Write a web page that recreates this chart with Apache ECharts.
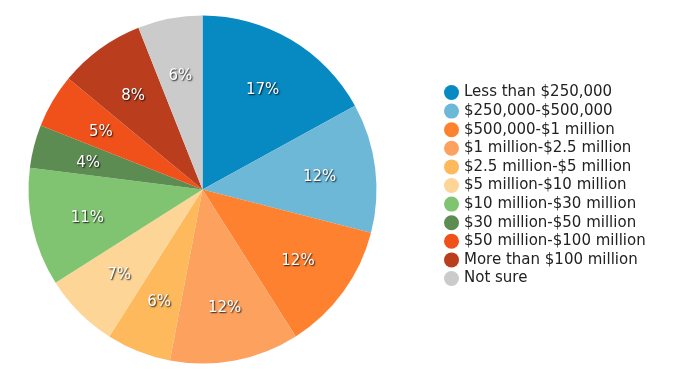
<!DOCTYPE html>
<html><head><meta charset="utf-8">
<script src="https://cdn.jsdelivr.net/npm/echarts@6/dist/echarts.min.js"></script>
<style>html,body{margin:0;padding:0;background:#fff}#c{width:675px;height:380px}</style>
</head><body><div id="c"></div>
<script>
const categories = ["Less than $250,000","$250,000-$500,000","$500,000-$1 million","$1 million-$2.5 million","$2.5 million-$5 million","$5 million-$10 million","$10 million-$30 million","$30 million-$50 million","$50 million-$100 million","More than $100 million","Not sure"];
const values = [17,12,12,12,6,7,11,4,5,8,6];
const colors = ["#0789C2","#6DB8D7","#FE8130","#FDA15F","#FDB95B","#FCD597","#80C471","#5D8C53","#F05019","#BA3E1E","#CBCBCB"];

const data = categories.map((n,i)=>({name:n,value:values[i],itemStyle:{color:colors[i]}}));
const labelData = categories.map((n,i)=>({name:n,value:values[i],itemStyle:{color:'rgba(0,0,0,0)'}}));

const chart = echarts.init(document.getElementById('c'),null,{renderer:'canvas'});
chart.setOption({
  animation:false,
  legend:{
    orient:'vertical', left:439, top:80,
    icon:'circle', itemWidth:15, itemHeight:15, itemGap:3.6,
    textStyle:{fontFamily:'DejaVu Sans',fontSize:15,color:'#222'},
    data:categories
  },
  series:[
    {type:'pie',center:[202.5,189.5],radius:[0,174],startAngle:90,clockwise:true,
     label:{show:false},labelLine:{show:false},data:data,silent:true},
    {type:'pie',center:[202.5,192],radius:[0,230],startAngle:90,clockwise:true,silent:true,
     legendHoverLink:false,
     label:{show:true,position:'inside',formatter:'{c}%',fontFamily:'DejaVu Sans',fontSize:15,color:'#fff',
       textShadowColor:'rgba(0,0,0,0.85)',textShadowBlur:1.5,textShadowOffsetX:1,textShadowOffsetY:1},
     labelLine:{show:false},data:labelData}
  ]
});
</script></body></html>
